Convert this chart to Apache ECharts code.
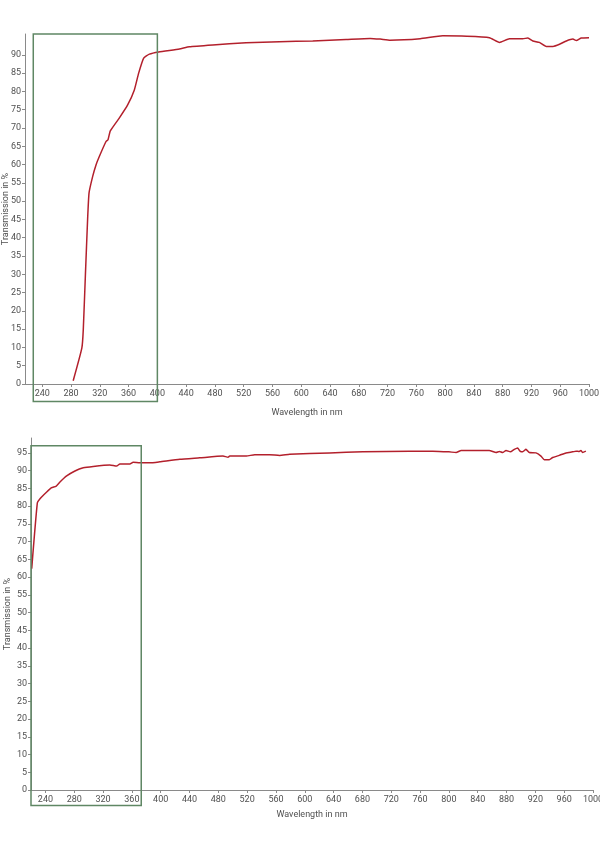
<!DOCTYPE html>
<html>
<head>
<meta charset="utf-8">
<script src="https://cdn.jsdelivr.net/npm/echarts@6/dist/echarts.min.js"></script>
<style>
  html, body { margin: 0; padding: 0; background: #fff; }
  #chart { width: 600px; height: 861px; }
</style>
</head>
<body>
<div id="chart"></div>
<script>
// upper curve
var topWavelength = [283, 295, 297, 300, 303, 305, 310, 314.7, 319.3, 328.6, 331.4, 334.6, 347, 358.7, 368, 374, 381, 388.9, 401.8,
  430.6, 444.5, 476.9, 523.3, 569.7, 616, 662.4, 695.8, 709.7, 723.6, 765.4, 796.8, 830, 861.7, 875.6, 889.5, 908, 915,
  922, 931, 940.6, 950, 959, 968.5, 977.7, 982.4, 989.3, 1000];
var topTransmission = [0.9, 9.8, 14.8, 30, 44.9, 52.2, 56.7, 59.9, 62.2, 66.3, 66.8, 69.2, 72.7, 76.3, 80.4, 85, 89.1, 90.2, 90.8,
  91.6, 92.2, 92.7, 93.3, 93.6, 93.8, 94.2, 94.5, 94.3, 94.0, 94.4, 95.2, 95.1, 94.7, 93.4, 94.4, 94.4, 94.6,
  93.8, 93.4, 92.3, 92.3, 92.9, 93.8, 94.3, 93.9, 94.6, 94.7];

// lower curve
var bottomWavelength = [221, 228.8, 232.5, 241.8, 248.7, 254.6, 260.2, 269.5, 281, 292.5, 306.3, 329.5, 338.8, 343.4, 357.2, 361.8,
  371, 384.9, 398.8, 426.5, 454.2, 486.5, 493.5, 495.8, 518.9, 530.5, 551.2, 565, 579, 634.4, 680.6, 745.3, 777.6, 800,
  810, 817, 856, 865.5, 870, 874.6, 879.3, 885.3, 890.8, 895.4, 898.7, 902.4, 907, 911.6, 920.9, 927.8, 932.4, 939.3,
  944, 953.2, 962.4, 971.7, 976.3, 981, 983.2, 985.5, 990.1];
var bottomTransmission = [62.4, 80.9, 82.1, 84, 85.2, 85.6, 86.8, 88.5, 89.9, 90.8, 91.2, 91.6, 91.3, 91.9, 91.9, 92.4,
  92.2, 92.2, 92.5, 93.2, 93.6, 94.1, 93.8, 94.1, 94.1, 94.5, 94.5, 94.3, 94.6, 95.0, 95.3, 95.5, 95.5, 95.3,
  95.1, 95.7, 95.7, 95.1, 95.4, 95.1, 95.7, 95.3, 96.0, 96.4, 95.5, 95.3, 96.0, 95.1, 95.0, 94.1, 93.1, 93.1,
  93.7, 94.3, 95.0, 95.3, 95.5, 95.4, 95.7, 95.1, 95.5];

var xTicks = [240, 280, 320, 360, 400, 440, 480, 520, 560, 600, 640, 680, 720, 760, 800, 840, 880, 920, 960, 1000];
var topYTicks = [0, 5, 10, 15, 20, 25, 30, 35, 40, 45, 50, 55, 60, 65, 70, 75, 80, 85, 90];
var bottomYTicks = [0, 5, 10, 15, 20, 25, 30, 35, 40, 45, 50, 55, 60, 65, 70, 75, 80, 85, 90, 95];

// highlighted ranges [x0, y0, x1, y1] in data units
var boxes = [[227.5, -4.8, 400, 95.7], [220, -4.4, 373, 97]];

var FONT = 'Roboto, "DejaVu Sans", sans-serif';
var axisGray = '#8a8a8a';
var textGray = '#505050';

function plain(v) { return String(v); }

function makeX(gridIndex, min, gap) {
  return {
    type: 'value', gridIndex: gridIndex, min: min, max: 1000,
    name: 'Wavelength in nm', nameLocation: 'middle', nameGap: gap, nameMoveOverlap: false,
    nameTextStyle: { color: textGray, fontSize: 9, fontFamily: FONT },
    axisLine: { show: true, lineStyle: { color: axisGray, width: 1 } },
    axisTick: { show: true, length: 3, customValues: xTicks, lineStyle: { color: axisGray } },
    axisLabel: { customValues: xTicks, formatter: plain, color: textGray, fontSize: 9, fontFamily: FONT, margin: 5 },
    splitLine: { show: false }
  };
}

function makeY(gridIndex, max, ticks, gap) {
  return {
    type: 'value', gridIndex: gridIndex, min: 0, max: max,
    name: 'Transmission in %', nameLocation: 'middle', nameGap: gap, nameMoveOverlap: false,
    nameTextStyle: { color: textGray, fontSize: 9, fontFamily: FONT },
    axisLine: { show: true, lineStyle: { color: axisGray, width: 1 } },
    axisTick: { show: true, length: 3, customValues: ticks, lineStyle: { color: axisGray } },
    axisLabel: { customValues: ticks, formatter: plain, color: textGray, fontSize: 9, fontFamily: FONT, margin: 4 },
    splitLine: { show: false }
  };
}

function pairs(xs, ys) {
  return xs.map(function (x, i) { return [x, ys[i]]; });
}

var chart = echarts.init(document.getElementById('chart'));
chart.setOption({
  animation: false,
  backgroundColor: '#fff',
  grid: [
    { left: 25, top: 34, width: 564, height: 350, containLabel: false, outerBoundsMode: 'none' },
    { left: 31, top: 438, width: 562, height: 352, containLabel: false, outerBoundsMode: 'none' }
  ],
  xAxis: [makeX(0, 216, 24), makeX(1, 220, 20)],
  yAxis: [makeY(0, 95.7, topYTicks, 15), makeY(1, 99.2, bottomYTicks, 19)],
  series: [
    {
      type: 'line', xAxisIndex: 0, yAxisIndex: 0, data: pairs(topWavelength, topTransmission),
      showSymbol: false, smooth: 0.15, lineStyle: { color: '#b3202c', width: 1.5 }
    },
    {
      type: 'line', xAxisIndex: 1, yAxisIndex: 1, data: pairs(bottomWavelength, bottomTransmission),
      showSymbol: false, smooth: 0.15, lineStyle: { color: '#b3202c', width: 1.5 }
    }
  ]
});

// green frames placed through the axes' own scales
var frames = boxes.map(function (b, i) {
  var p0 = chart.convertToPixel({ xAxisIndex: i, yAxisIndex: i }, [b[0], b[3]]);
  var p1 = chart.convertToPixel({ xAxisIndex: i, yAxisIndex: i }, [b[2], b[1]]);
  return {
    type: 'rect', z: 100,
    shape: { x: p0[0], y: p0[1], width: p1[0] - p0[0], height: p1[1] - p0[1] },
    style: { fill: 'none', stroke: '#5f8764', lineWidth: 1.5 }
  };
});
chart.setOption({ graphic: frames });
</script>
</body>
</html>
